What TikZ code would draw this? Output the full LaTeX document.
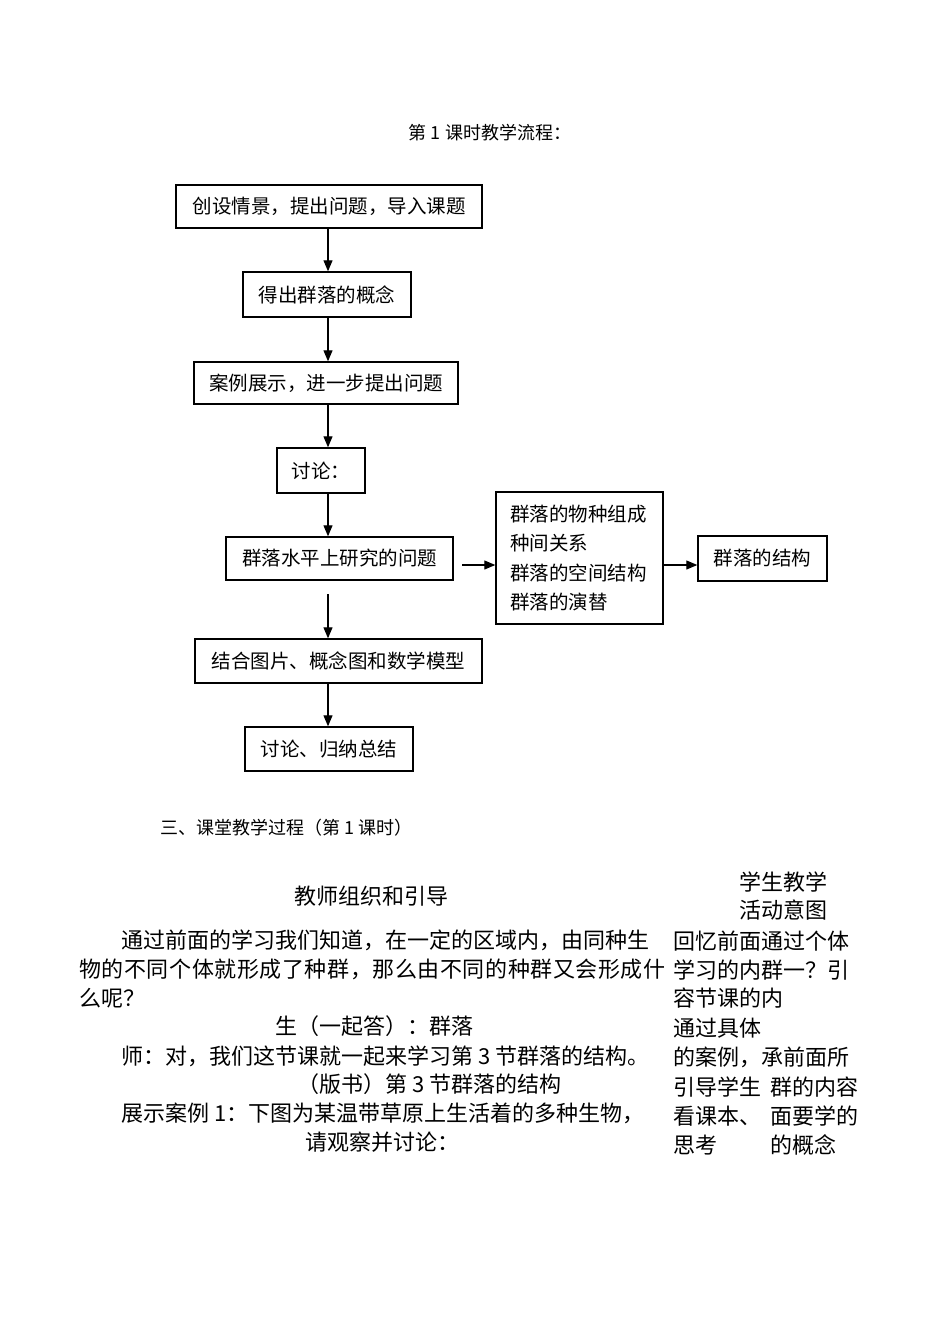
\documentclass[tikz,border=0pt]{standalone}
\usepackage{fontspec}
\setmainfont{Noto Sans CJK SC}
\usetikzlibrary{arrows.meta}
\begin{document}
\begin{tikzpicture}[x=1pt,y=-1pt,
  fbox/.style={draw, line width=1.4pt, inner sep=0pt, font=\fontsize{19.5}{24}\selectfont},
  arr/.style={line width=1.1pt, -{Triangle[length=11pt,width=9pt]}},
  body/.style={anchor=west, inner sep=0pt, font=\fontsize{22}{29}\selectfont},
  head/.style={anchor=west, inner sep=0pt, font=\fontsize{18}{22}\selectfont}]
\useasboundingbox (0,0) rectangle (950,1324);
\fill[white] (0,0) rectangle (950,1324);
% title
\node[inner sep=0pt, font=\fontsize{18}{22}\selectfont] (title) at (490,133) {第 1 课时教学流程：};
% flowchart boxes
\node[fbox, minimum width=306pt, minimum height=43pt] (b1) at (329,206.5) {创设情景，提出问题，导入课题};
\node[fbox, minimum width=168pt, minimum height=45pt] (b2) at (327,294.5) {得出群落的概念};
\node[fbox, minimum width=264pt, minimum height=42pt] (b3) at (326,383) {案例展示，进一步提出问题};
\node[fbox, minimum width=88pt, minimum height=45pt] (b4) at (321,470.5) {讨论：};
\node[fbox, minimum width=227pt, minimum height=43pt] (b5) at (339.5,558.5) {群落水平上研究的问题};
\node[fbox, minimum height=132pt, text width=139pt, inner xsep=14pt, align=left,
      font=\fontsize{19.5}{29.5}\selectfont] (b6) at (579.5,558)
      {群落的物种组成\\种间关系\\群落的空间结构\\群落的演替};
\node[fbox, minimum width=129pt, minimum height=45pt] (b7) at (762.5,558.5) {群落的结构};
\node[fbox, minimum width=287pt, minimum height=44pt] (b8) at (338.5,661) {结合图片、概念图和数学模型};
\node[fbox, minimum width=168pt, minimum height=44pt] (b9) at (329,749) {讨论、归纳总结};
% connectors
\coordinate (ax) at (328,0);
\coordinate (ay) at (0,565);
\coordinate (s8) at (328,594);
\coordinate (s6) at (462,565);
\draw[arr] (b1.south -| ax) -- (b2.north -| ax);
\draw[arr] (b2.south -| ax) -- (b3.north -| ax);
\draw[arr] (b3.south -| ax) -- (b4.north -| ax);
\draw[arr] (b4.south -| ax) -- (b5.north -| ax);
\draw[arr] (s6) -- (b6.west |- ay);
\draw[arr] (b6.east |- ay) -- (b7.west |- ay);
\draw[arr] (s8) -- (b8.north -| ax);
\draw[arr] (b8.south -| ax) -- (b9.north -| ax);
% lesson text
\node[head] (h3) at (160,828) {三、课堂教学过程（第 1 课时）};
\node[inner sep=0pt, font=\fontsize{22}{29}\selectfont] (tc) at (371,896) {教师组织和引导};
\node[body] (sc1) at (739,882) {学生教学};
\node[body] (sc2) at (739,910) {活动意图};
\node[body] (p1) at (121,940) {通过前面的学习我们知道，在一定的区域内，由同种生};
\node[body] (p2) at (79,969) {\addfontfeature{LetterSpace=2.6}物的不同个体就形成了种群，那么由不同的种群又会形成什};
\node[body] (p3) at (79,998) {么呢？};
\node[body] (p4) at (275,1026) {生（一起答）：群落};
\node[body] (p5) at (121,1056) {师：对，我们这节课就一起来学习第 3 节群落的结构。};
\node[body] (p6) at (297,1084) {（版书）第 3 节群落的结构};
\node[body] (p7) at (121,1113) {展示案例 1：下图为某温带草原上生活着的多种生物，};
\node[body] (p8) at (305,1142) {请观察并讨论：};
% right column
\node[body] (r1) at (673,941) {回忆前面通过个体};
\node[body] (r2) at (673,970) {学习的内群一？引};
\node[body] (r3) at (673,998) {容节课的内};
\node[body] (r4) at (673,1028) {通过具体};
\node[body] (r5) at (673,1057) {的案例，承前面所};
\node[body] (r6) at (673,1087) {引导学生};
\node[body] (r6b) at (770,1087) {群的内容};
\node[body] (r7) at (673,1116) {看课本、};
\node[body] (r7b) at (770,1116) {面要学的};
\node[body] (r8) at (673,1145) {思考};
\node[body] (r8b) at (770,1145) {的概念};
\end{tikzpicture}
\end{document}
